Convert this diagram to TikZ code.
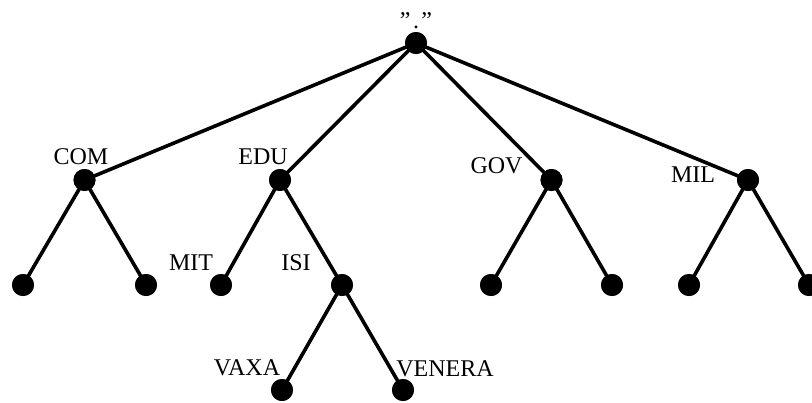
\documentclass[tikz,border=0pt]{standalone}
\usepackage{fontspec}
\setmainfont[Ligatures=NoCommon]{Liberation Serif}
\begin{document}
\begin{tikzpicture}[x=1pt,y=-1pt,
  dot/.style={circle,fill=black,draw=none,minimum size=22pt,inner sep=0pt},
  lbl/.style={anchor=base,inner sep=0pt,font=\fontsize{24}{28}\selectfont},
  edge/.style={line width=3.6pt}]
\useasboundingbox (0,0) rectangle (812,402);
\clip (0,0) rectangle (812,402);
% tree nodes
\node[dot] (root) at (416,43) {};
\node[dot] (com) at (84.5,180) {};
\node[dot] (edu) at (280,180) {};
\node[dot] (gov) at (551.5,180) {};
\node[dot] (mil) at (748,180) {};
\node[dot] (c1) at (23,285) {};
\node[dot] (c2) at (146,285) {};
\node[dot] (mit) at (221,285) {};
\node[dot] (isi) at (342,285) {};
\node[dot] (g1) at (491,285) {};
\node[dot] (g2) at (612,285) {};
\node[dot] (m1) at (689,285) {};
\node[dot] (m2) at (809,285) {};
\node[dot] (vaxa) at (282,390) {};
\node[dot] (venera) at (403,390) {};
% edges
\foreach \p/\c in {root/com,root/edu,root/gov,root/mil,com/c1,com/c2,edu/mit,edu/isi,gov/g1,gov/g2,mil/m1,mil/m2,isi/vaxa,isi/venera}
  \draw[edge] (\p.center) -- (\c.center);
% redraw dots on top of edges
\foreach \n in {root,com,edu,gov,mil,c1,c2,mit,isi,g1,g2,m1,m2,vaxa,venera}
  \fill (\n.center) circle (11pt);
% labels
\node[lbl] (lroot) at (416,28) {\symbol{"22}\kern2.5pt.\kern2.5pt\symbol{"22}};
\node[lbl] (lcom) at (81,164) {COM};
\node[lbl] (ledu) at (263,164) {EDU};
\node[lbl] (lgov) at (496.5,173) {GOV};
\node[lbl] (lmil) at (693,182) {MIL};
\node[lbl] (lmit) at (191,270) {MIT};
\node[lbl] (lisi) at (296,270) {ISI};
\node[lbl] (lvaxa) at (247,375) {VAXA};
\node[lbl] (lvenera) at (445,376) {VENERA};
\end{tikzpicture}
\end{document}
